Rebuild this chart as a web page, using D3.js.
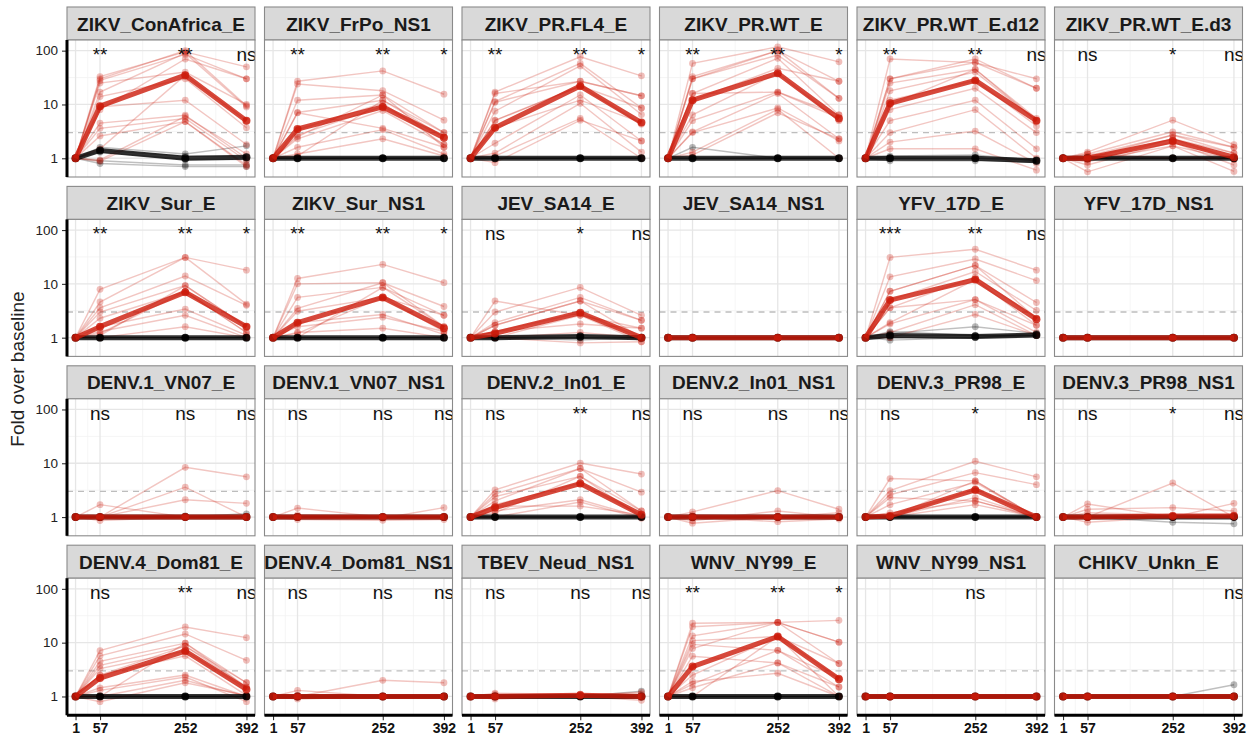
<!DOCTYPE html>
<html>
<head>
<meta charset="utf-8">
<script src="https://cdn.jsdelivr.net/npm/d3@7"></script>
<style>
  body { margin: 0; background: #fff; }
  svg { display: block; }
  text { font-family: "Liberation Sans", Arial, Helvetica, sans-serif; }
</style>
</head>
<body>
<svg id="chart" width="1256" height="743"></svg>
<script>
// Antigens shown, one facet each (6 per row)
const panelNames = [
  "ZIKV_ConAfrica_E", "ZIKV_FrPo_NS1", "ZIKV_PR.FL4_E", "ZIKV_PR.WT_E", "ZIKV_PR.WT_E.d12", "ZIKV_PR.WT_E.d3",
  "ZIKV_Sur_E", "ZIKV_Sur_NS1", "JEV_SA14_E", "JEV_SA14_NS1", "YFV_17D_E", "YFV_17D_NS1",
  "DENV.1_VN07_E", "DENV.1_VN07_NS1", "DENV.2_In01_E", "DENV.2_In01_NS1", "DENV.3_PR98_E", "DENV.3_PR98_NS1",
  "DENV.4_Dom81_E", "DENV.4_Dom81_NS1", "TBEV_Neud_NS1", "WNV_NY99_E", "WNV_NY99_NS1", "CHIKV_Unkn_E"
];

// Study days; day 1 is the baseline (fold = 1)
const days = [1, 57, 252, 392];
const baselineFold = 1;
const xTickLabels = ["1", "57", "252", "392"];
const yTickValues = [1, 10, 100];
const yTickLabels = ["1", "10", "100"];
const positivityCutoff = 3;

// Significance vs. baseline at days 57, 252, 392 ("" = not shown)
const sigLabels = [
  ["**", "**", "ns"], ["**", "**", "*"], ["**", "**", "*"], ["**", "**", "*"], ["**", "**", "ns"], ["ns", "*", "ns"],
  ["**", "**", "*"], ["**", "**", "*"], ["ns", "*", "ns"], ["", "", ""], ["***", "**", "ns"], ["", "", ""],
  ["ns", "ns", "ns"], ["ns", "ns", "ns"], ["ns", "**", "ns"], ["ns", "ns", "ns"], ["ns", "*", "ns"], ["ns", "*", "ns"],
  ["ns", "**", "ns"], ["ns", "ns", "ns"], ["ns", "ns", "ns"], ["**", "**", "*"], ["", "ns", ""], ["", "", "ns"]
];

// Group summary (vaccinated, red) at days 57, 252, 392
const redMean = [
  [9.3, 35, 5], [3.5, 9, 2.4], [3.7, 22, 4.6], [12, 38, 5.5], [10.5, 28, 5], [1.0, 2.1, 1.05],
  [1.6, 7, 1.6], [1.9, 5.6, 1.5], [1.2, 2.9, 1.0], [1, 1, 1], [5, 12, 2.2], [1, 1, 1],
  [1, 1, 1], [1, 1, 1], [1.5, 4.2, 1.1], [1, 1, 1], [1.05, 3.2, 1.0], [1, 1.05, 1.05],
  [2.2, 7, 1.35], [1, 1, 1], [1, 1.05, 1], [3.6, 13, 2.1], [1, 1, 1], [1, 1, 1]
];

// Group summary (placebo, black) at days 57, 252, 392
const blackMean = [
  [1.4, 1.0, 1.05], [1, 1, 1], [1, 1, 1], [1, 1, 1], [1, 1, 0.9], [1, 1, 1],
  [1, 1, 1], [1, 1, 1], [1, 1.05, 1], [1, 1, 1], [1.1, 1.05, 1.12], [1, 1, 1],
  [1, 1, 1], [1, 1, 1], [1, 1, 1], [1, 1, 1], [1, 1, 1], [1, 1, 1],
  [1, 1, 1], [1, 1, 1], [1, 1, 1], [1, 1, 1], [1, 1, 1], [1, 1, 1]
];

// Individual vaccinated subjects: fold at days 57, 252, 392
const redSubjects = [
  [[33, 95, 50], [28, 85, 30], [25, 40, 10], [17, 90, 9], [14, 30, 3.7], [9, 12, 1.8], [30, 100, 9.5],
   [4.5, 6.3, 1.0], [3.6, 5.5, 0.9], [2.6, 4.8, 0.75], [1.5, 35, 5], [0.93, 6, 1.2], [0.88, 4.8, 0.7], [8, 70, 30]],
  [[27, 42, 15.5], [24, 18, 5.1], [12, 15, 3.0], [7.1, 12, 2.5], [7, 3.6, 1.6], [3.4, 10.5, 1.8],
   [2.7, 9.2, 2.5], [2.3, 7.7, 1.8], [1.6, 3.4, 1.2], [1.2, 2.3, 1.1], [1.1, 12, 3.0], [2.5, 15, 1.6]],
  [[17, 77, 34], [16, 27, 14.5], [11.3, 58, 8.6], [7.5, 52, 6.5], [5.1, 22, 4.3], [3.7, 12, 4.6],
   [1.9, 15, 2.1], [1.25, 10.5, 1.3], [1.1, 5.5, 1.0], [0.83, 5.1, 2.1], [11, 27, 14.5], [5, 22, 8.6]],
  [[58, 118, 62], [33, 100, 27], [30, 83, 13], [16, 72, 6.4], [12, 47, 27], [6.4, 38, 5], [5, 17, 5.6],
   [3.1, 16, 2.3], [3, 8.6, 2.1], [1.3, 8.1, 1.0], [1.15, 7, 2.3], [30, 100, 13], [16, 17, 6.4]],
  [[70, 60, 30], [30, 70, 20], [25, 45, 5.5], [18, 40, 5], [12, 28, 4], [8, 20, 3],
   [5, 12, 1.5], [3, 8, 1.0], [2, 3.2, 0.8], [1.5, 1.5, 0.6], [30, 60, 20], [10, 45, 5]],
  [[1.3, 5.1, 1.8], [1.2, 3.1, 1.6], [1.1, 2.7, 1.25], [0.85, 2.3, 0.95], [0.75, 2.0, 0.75],
   [0.56, 1.7, 0.57], [1.0, 2.3, 1.25], [0.9, 1.7, 0.95], [1.2, 1.0, 1.0], [1.0, 2.7, 1.6]],
  [[7.9, 31, 18], [4.6, 31, 4.2], [3.6, 14, 4], [3.0, 9.3, 1.6], [2.3, 7.2, 1.25],
   [1.6, 3.4, 1.1], [1.3, 2.6, 1.0], [1.0, 1.6, 1.0], [1.1, 9.3, 1.6], [1.2, 7.2, 1.25]],
  [[12.6, 23, 10.5], [10, 10.5, 3.8], [5.6, 8.6, 2.6], [3.5, 10.5, 1.6], [3.1, 5.6, 1.3],
   [1.9, 2.7, 1.15], [1.6, 2.4, 1.3], [1.25, 1.5, 1.0], [1.0, 8.6, 1.6], [1.2, 5.6, 2.6]],
  [[4.8, 2.6, 1.5], [3.0, 8.6, 2.6], [1.9, 5.6, 2.1], [1.7, 4.8, 1.0], [1.3, 2.9, 1.0],
   [1.0, 2.6, 0.84], [1.3, 1.8, 1.5], [1.0, 1.25, 1.0], [1.0, 0.8, 0.84], [1.7, 4.8, 2.1]],
  [[1, 1, 1], [1, 1, 1], [1, 1, 1], [1, 1, 1], [1, 1, 1], [1, 1, 1], [1, 1, 1], [1, 1, 1]],
  [[31, 44, 18], [13.5, 29, 11.5], [7.3, 22, 4.5], [5, 17, 3.2], [3.6, 13.5, 2.3], [1.9, 12, 1.7],
   [1.8, 5.1, 1.25], [1.25, 4.1, 1.1], [1.0, 2.7, 1.1], [7.3, 22, 2.3], [3.6, 5.1, 1.7]],
  [[1, 1, 1], [1, 1, 1], [1, 1, 1], [1, 1, 1], [1, 1, 1], [1, 1, 1], [1, 1, 1], [1, 1, 1]],
  [[1.7, 1, 1], [1, 8.4, 5.6], [1, 3.6, 1], [1, 2.1, 1.8], [0.86, 1, 1],
   [1, 1, 1], [1, 1, 1], [1, 1, 1], [1, 1, 1], [1, 1, 1], [1, 1, 1]],
  [[1.47, 1, 1], [0.9, 0.87, 0.9], [1, 0.95, 1.5], [1.1, 1, 1],
   [1, 1, 1], [1, 1, 1], [1, 1, 1], [1, 1, 1], [1, 1, 1], [1, 1, 1]],
  [[3.2, 10.1, 6.3], [2.7, 8, 2.9], [2.4, 5.7, 1.3], [1.7, 4.3, 1.1], [1.3, 2.1, 1.0],
   [1.0, 1.9, 0.95], [1.6, 1.6, 1.1], [2.0, 8, 1.3], [1.2, 5.7, 1.0]],
  [[1.25, 3.1, 1.4], [0.85, 1.3, 1], [0.77, 1, 1], [1, 0.82, 0.92], [1.1, 1, 1.2],
   [1, 1, 1], [1, 1, 1], [1, 1, 1], [1, 1, 1], [1, 1, 1]],
  [[5.2, 4.7, 1.0], [3.1, 10.9, 5.6], [2.6, 6.7, 4.0], [2.3, 2.0, 1.0], [1.7, 4.4, 1.0],
   [1.0, 3.3, 1.0], [1.0, 2.3, 1.0], [1.0, 1.7, 1.0], [1.0, 4.7, 1.0], [1.2, 2.0, 1.0]],
  [[1.75, 1, 1.8], [1, 4.3, 1.0], [1.4, 1.5, 1.3], [0.8, 1, 1], [1.2, 1.1, 1.1],
   [1, 1, 1], [1, 1, 1], [1, 1, 1], [1, 1, 1], [1, 1, 1]],
  [[7.1, 19.6, 12.4], [5.7, 14.5, 4.7], [4.5, 9.8, 1.8], [3.8, 8.6, 1.5], [3.3, 7, 1.4], [2.5, 5.7, 1.05],
   [1.45, 2.5, 1.0], [1.3, 2.3, 0.8], [1.0, 2.0, 1.0], [0.8, 1.8, 1.05], [1.0, 9.8, 1.5], [2.5, 8.6, 1.8]],
  [[1, 2.0, 1.8], [1.3, 1, 1], [0.9, 1, 1],
   [1, 1, 1], [1, 1, 1], [1, 1, 1], [1, 1, 1], [1, 1, 1], [1, 1, 1], [1, 1, 1]],
  [[1.15, 1.1, 1.0], [0.9, 1, 0.85], [1, 1.1, 1.1], [1.1, 1.05, 1.2],
   [1, 1, 1], [1, 1, 1], [1, 1, 1], [1, 1, 1], [1, 1, 1], [1, 1, 1]],
  [[23, 23.8, 26], [19.8, 23.8, 10.2], [13.4, 23.8, 4.1], [10.9, 13, 2.2], [9.3, 7.2, 2.2], [7.8, 23.8, 10.2],
   [5.6, 4.2, 1.5], [2.5, 13, 1.0], [1.9, 2.7, 1.0], [1.7, 7.2, 1.5], [1.45, 4.2, 1.0], [1.0, 13, 4.1]],
  [[1, 1, 1], [1, 1, 1], [1, 1, 1], [1, 1, 1], [1, 1, 1], [1, 1, 1], [1, 1, 1], [1, 1, 1]],
  [[1, 1, 1], [1, 1, 1], [1, 1, 1], [1, 1, 1], [1, 1, 1], [1, 1, 1], [1, 1, 1], [1, 1, 1]]
];

// Individual placebo subjects: fold at days 57, 252, 392
const blackSubjects = [
  [[1.6, 1.2, 1.7], [1.4, 1.1, 1.05], [1.3, 0.95, 0.95], [0.9, 0.75, 0.75], [0.8, 0.7, 0.7]],
  [[1, 1, 1], [1, 1, 1], [1, 1, 1], [1, 1, 1]],
  [[1, 1, 1], [1, 1, 1], [1, 1, 1], [1, 1, 1]],
  [[1.6, 1, 1], [1, 1, 1], [1, 1, 1], [1, 1, 1]],
  [[1.1, 1.15, 0.9], [1.0, 1.0, 0.9], [0.9, 0.9, 0.85], [1, 1, 0.95]],
  [[1, 1, 1], [1, 1, 1], [1, 1, 1], [1, 1, 1]],
  [[1, 1, 1], [1, 1, 1], [1, 1, 1], [1, 1, 1]],
  [[1, 1, 1], [1, 1, 1], [1, 1, 1], [1, 1, 1]],
  [[1, 1.1, 1], [1, 1, 1], [1, 1, 1], [1, 0.9, 1]],
  [[1, 1, 1], [1, 1, 1], [1, 1, 1], [1, 1, 1]],
  [[1.2, 1.6, 1.2], [1.1, 1.1, 1.1], [1.0, 1.0, 1.2], [0.9, 1.0, 1.1], [1.3, 1.1, 1.1]],
  [[1, 1, 1], [1, 1, 1], [1, 1, 1], [1, 1, 1]],
  [[1, 1, 1.15], [1, 1.05, 1], [1, 1, 1], [1, 1, 1]],
  [[1, 1, 1], [1, 1, 1], [1, 1, 1], [1, 1, 1]],
  [[1, 1, 1], [1, 1, 1], [1, 1, 1], [1, 1, 1]],
  [[1, 1, 1], [1, 1, 1], [1, 1, 1], [1, 1, 1]],
  [[1, 1, 1], [1, 1, 1], [1, 1, 1], [1, 1, 1]],
  [[1, 0.8, 0.75], [1, 1, 1], [1, 1, 1], [1, 1, 1]],
  [[1, 1, 1], [1, 1, 1], [1, 1, 1], [1, 1, 1]],
  [[1, 1, 1], [1, 1, 1], [1, 1, 1], [1, 1, 1]],
  [[1, 1, 1.25], [1, 1, 1], [1, 1, 1], [1, 1, 1]],
  [[1, 1, 1], [1, 1, 1], [1, 1, 1], [1, 1, 1]],
  [[1, 1, 1], [1, 1, 1], [1, 1, 1], [1, 1, 1]],
  [[1, 1, 1.65], [1, 1, 1], [1, 1, 1], [1, 1, 1]]
];

// ---- layout ----
const nCols = 6;
const colLeft0 = 67, colStep = 197.5, panelW = 188;
const rowTop0 = 7, rowStep = 179.4, stripH = 33, panelH = 137;
const nRows = Math.ceil(panelNames.length / nCols);

const RED = "#cc1a0a";
const BLACK = "#000000";

const x = d3.scaleLinear().domain([-18.55, 411.55]).range([0, panelW]);
const y = d3.scaleLog().domain([Math.pow(10, -0.348), Math.pow(10, 2.198)]).range([panelH, 0]);

const xMinor = [29, 154.5, 322];
const yMinor = [Math.pow(10, 0.5), Math.pow(10, 1.5)];

const svg = d3.select("#chart");
const defs = svg.append("defs");

const line = d3.line().x(d => x(d.day)).y(d => y(d.fold));
const toSeries = vals => [baselineFold, ...vals].map((v, i) => ({ day: days[i], fold: v }));

panelNames.forEach((name, i) => {
  const col = i % nCols, row = Math.floor(i / nCols);
  const left = colLeft0 + col * colStep;
  const top = rowTop0 + row * rowStep;

  // strip
  const strip = svg.append("g").attr("transform", `translate(${left},${top})`);
  strip.append("rect").attr("width", panelW).attr("height", stripH)
    .attr("fill", "#d9d9d9").attr("stroke", "#8a8a8a").attr("stroke-width", 1.1);
  strip.append("text").attr("x", panelW / 2).attr("y", stripH / 2 + 7)
    .attr("text-anchor", "middle").attr("font-size", 19).attr("font-weight", "bold")
    .attr("fill", "#1a1a1a").text(name);

  const g = svg.append("g").attr("transform", `translate(${left},${top + stripH})`);
  g.append("rect").attr("width", panelW).attr("height", panelH).attr("fill", "#fff");

  // grid
  const grid = g.append("g");
  grid.selectAll(".xmin").data(xMinor).join("line")
    .attr("x1", d => x(d)).attr("x2", d => x(d)).attr("y1", 0).attr("y2", panelH)
    .attr("stroke", "#f2f2f2").attr("stroke-width", 0.8);
  grid.selectAll(".ymin").data(yMinor).join("line")
    .attr("y1", d => y(d)).attr("y2", d => y(d)).attr("x1", 0).attr("x2", panelW)
    .attr("stroke", "#f2f2f2").attr("stroke-width", 0.8);
  grid.selectAll(".xmaj").data(days).join("line")
    .attr("x1", d => x(d)).attr("x2", d => x(d)).attr("y1", 0).attr("y2", panelH)
    .attr("stroke", "#e6e6e6").attr("stroke-width", 1.3);
  grid.selectAll(".ymaj").data(yTickValues).join("line")
    .attr("y1", d => y(d)).attr("y2", d => y(d)).attr("x1", 0).attr("x2", panelW)
    .attr("stroke", "#e6e6e6").attr("stroke-width", 1.3);

  // positivity cutoff
  g.append("line").attr("x1", 0).attr("x2", panelW)
    .attr("y1", y(positivityCutoff)).attr("y2", y(positivityCutoff))
    .attr("stroke", "#bdbdbd").attr("stroke-width", 1.3).attr("stroke-dasharray", "6,5");

  const clipId = "clip" + i;
  defs.append("clipPath").attr("id", clipId).append("rect")
    .attr("width", panelW).attr("height", panelH);
  const data = g.append("g").attr("clip-path", `url(#${clipId})`);

  const drawSubjects = (subjects, color) => {
    subjects.forEach(s => {
      const series = toSeries(s);
      data.append("path").datum(series).attr("d", line)
        .attr("fill", "none").attr("stroke", color).attr("stroke-opacity", 0.25).attr("stroke-width", 1.4);
      data.append("g").selectAll("circle").data(series).join("circle")
        .attr("cx", d => x(d.day)).attr("cy", d => y(d.fold)).attr("r", 3.4)
        .attr("fill", color).attr("fill-opacity", 0.28);
    });
  };
  const drawMean = (vals, color) => {
    const series = toSeries(vals);
    data.append("path").datum(series).attr("d", line)
      .attr("fill", "none").attr("stroke", color).attr("stroke-opacity", 0.8)
      .attr("stroke-width", 5).attr("stroke-linejoin", "round");
    data.append("g").selectAll("circle").data(series).join("circle")
      .attr("cx", d => x(d.day)).attr("cy", d => y(d.fold)).attr("r", 4)
      .attr("fill", color).attr("fill-opacity", 0.8);
  };

  drawSubjects(blackSubjects[i], BLACK);
  drawSubjects(redSubjects[i], RED);
  drawMean(blackMean[i], BLACK);
  drawMean(redMean[i], RED);

  // significance labels
  data.selectAll(".sig").data(sigLabels[i].map((t, k) => ({ t, day: days[k + 1] })).filter(d => d.t))
    .join("text")
    .attr("x", d => x(d.day)).attr("y", y(100)).attr("dy", "0.55em")
    .attr("text-anchor", "middle").attr("font-size", 19).attr("fill", "#111")
    .text(d => d.t);

  // panel border
  g.append("rect").attr("width", panelW).attr("height", panelH)
    .attr("fill", "none").attr("stroke", "#8a8a8a").attr("stroke-width", 1.1);

  // y axis on first column
  if (col === 0) {
    const ax = g.append("g").call(
      d3.axisLeft(y).tickValues(yTickValues).tickFormat((d, k) => yTickLabels[k]).tickSizeOuter(0).tickSize(5).tickPadding(4)
    );
    ax.select(".domain").remove();
    ax.selectAll(".tick line").attr("stroke", "#333").attr("stroke-width", 1.1);
    ax.selectAll(".tick text").attr("font-size", 13.5).attr("fill", "#222")
      .style("font-family", '"Liberation Sans", Arial, sans-serif');
    g.append("line").attr("x1", 0).attr("x2", 0).attr("y1", 0).attr("y2", panelH)
      .attr("stroke", "#000").attr("stroke-width", 3);
  }
  // x axis on last row
  if (row === nRows - 1) {
    const ax = g.append("g").attr("transform", `translate(0,${panelH})`).call(
      d3.axisBottom(x).tickValues(days).tickFormat((d, k) => xTickLabels[k]).tickSizeOuter(0).tickSize(5).tickPadding(3)
    );
    ax.select(".domain").remove();
    ax.selectAll(".tick line").attr("stroke", "#333").attr("stroke-width", 1.1);
    ax.selectAll(".tick text").attr("font-size", 14).attr("font-weight", "bold").attr("fill", "#111")
      .style("font-family", '"Liberation Sans", Arial, sans-serif');
    g.append("line").attr("x1", 0).attr("x2", panelW).attr("y1", panelH).attr("y2", panelH)
      .attr("stroke", "#000").attr("stroke-width", 3);
  }
});

// y axis title
svg.append("text")
  .attr("transform", "translate(24,369) rotate(-90)")
  .attr("text-anchor", "middle").attr("font-size", 19).attr("fill", "#222")
  .text("Fold over baseline");
</script>
</body>
</html>
